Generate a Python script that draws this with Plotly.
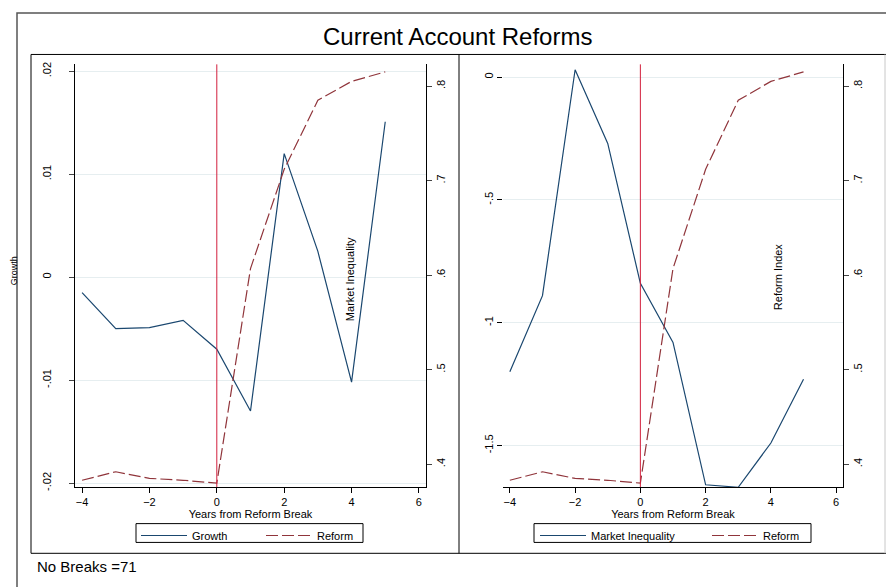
import plotly.graph_objects as go

W, H = 886, 587

years = [-4, -3, -2, -1, 0, 1, 2, 3, 4, 5]
growth = [-0.0015, -0.0050, -0.0049, -0.0042, -0.0070, -0.0130, 0.0120, 0.0025, -0.0102, 0.0151]
reform = [0.383, 0.392, 0.385, 0.383, 0.380, 0.607, 0.712, 0.785, 0.805, 0.815]
market_ineq = [-1.20, -0.89, 0.03, -0.27, -0.84, -1.08, -1.66, -1.67, -1.49, -1.23]

x_ticks = [-4, -2, 0, 2, 4, 6]
growth_ticks = [0.02, 0.01, 0, -0.01, -0.02]
growth_ticktext = [".02", ".01", "0", "-.01", "-.02"]
reform_ticks = [0.4, 0.5, 0.6, 0.7, 0.8]
reform_ticktext = [".4", ".5", ".6", ".7", ".8"]
mi_ticks = [0, -0.5, -1, -1.5]
mi_ticktext = ["0", "-.5", "-1", "-1.5"]

NAVY = "#1a476f"
MAROON = "#90353b"
VRED = "#d21f3c"
GRID = "#e6eef0"
FONT = "Liberation Sans Narrow, Arial Narrow, Liberation Sans, Arial"

def px(x):
    return x / W

def py(y):
    return 1 - y / H

fig = go.Figure()

fig.add_trace(go.Scatter(x=years, y=growth, mode="lines", name="Growth",
                         line=dict(color=NAVY, width=1.2), xaxis="x", yaxis="y", legend="legend"))
fig.add_trace(go.Scatter(x=years, y=reform, mode="lines", name="Reform",
                         line=dict(color=MAROON, width=1.2, dash="12px,4px"), xaxis="x", yaxis="y2", legend="legend2"))
fig.add_trace(go.Scatter(x=years, y=market_ineq, mode="lines", name="Market Inequality",
                         line=dict(color=NAVY, width=1.2), xaxis="x2", yaxis="y3", legend="legend3"))
fig.add_trace(go.Scatter(x=years, y=reform, mode="lines", name="Reform",
                         line=dict(color=MAROON, width=1.2, dash="12px,4px"), xaxis="x2", yaxis="y4", legend="legend4"))

xr = [-4.21, 6.21]
common_x = dict(range=xr, tickvals=x_ticks, showline=True, linecolor="black", linewidth=1,
                ticks="outside", ticklen=5, tickcolor="black", showgrid=False, zeroline=False,
                tickfont=dict(family=FONT, size=11, color="black"),
                title=dict(text="Years from Reform Break", font=dict(family=FONT, size=11, color="black"), standoff=2))
ydom = [py(490), py(63)]

legend_common = dict(orientation="h", yanchor="middle", y=py(539), xanchor="left",
                     borderwidth=0, bgcolor="rgba(0,0,0,0)", itemwidth=46,
                     font=dict(family=FONT, size=11, color="black"))

fig.update_layout(
    width=W, height=H, margin=dict(l=0, r=0, t=0, b=0),
    paper_bgcolor="white", plot_bgcolor="white",
    font=dict(family=FONT, color="black"),
    xaxis=dict(domain=[px(75), px(426)], anchor="y", **common_x),
    xaxis2=dict(domain=[px(503), px(843)], anchor="y3", **common_x),
    yaxis=dict(domain=ydom, anchor="x", range=[-0.02038, 0.02067], tickvals=growth_ticks, ticktext=growth_ticktext,
               tickangle=-90, showline=True, linecolor="black", linewidth=1, ticks="outside", ticklen=5,
               ticklabelstandoff=14,
               showgrid=True, gridcolor=GRID, gridwidth=1, zeroline=False,
               tickfont=dict(family=FONT, size=11, color="black")),
    yaxis2=dict(overlaying="y", side="right", anchor="x", range=[0.3759, 0.8230], tickvals=reform_ticks,
                ticktext=reform_ticktext, tickangle=-90, showline=True, linecolor="black", linewidth=1,
                ticks="outside", ticklen=5, showgrid=False, zeroline=False,
                tickfont=dict(family=FONT, size=11, color="black")),
    yaxis3=dict(domain=ydom, anchor="x2", range=[-1.669, 0.052], tickvals=mi_ticks, ticktext=mi_ticktext,
                tickangle=-90, showline=False, ticks="outside", ticklen=5, tickcolor="black",
                showgrid=True, gridcolor=GRID, gridwidth=1, zeroline=False,
                tickfont=dict(family=FONT, size=11, color="black")),
    yaxis4=dict(overlaying="y3", side="right", anchor="x2", range=[0.3759, 0.8230], tickvals=reform_ticks,
                ticktext=reform_ticktext, tickangle=-90, showline=True, linecolor="black", linewidth=1,
                ticks="outside", ticklen=5, showgrid=False, zeroline=False,
                tickfont=dict(family=FONT, size=11, color="black")),
    legend=dict(x=px(136), **legend_common),
    legend2=dict(x=px(261), **legend_common),
    legend3=dict(x=px(535), **legend_common),
    legend4=dict(x=px(707), **legend_common),
    showlegend=True,
)

shapes = []
# outer frame
shapes.append(dict(type="rect", xref="paper", yref="paper", x0=px(17), y0=py(600), x1=px(900), y1=py(11),
                   line=dict(color="#555555", width=1.5), layer="below"))
# panel frames
shapes.append(dict(type="rect", xref="paper", yref="paper", x0=px(31), y0=py(557), x1=px(459), y1=py(53),
                   line=dict(color="black", width=1), layer="below"))
shapes.append(dict(type="line", xref="paper", yref="paper", x0=px(459), y0=py(53), x1=px(886), y1=py(53),
                   line=dict(color="black", width=1), layer="below"))
shapes.append(dict(type="line", xref="paper", yref="paper", x0=px(459), y0=py(557), x1=px(886), y1=py(557),
                   line=dict(color="black", width=1), layer="below"))
shapes.append(dict(type="line", xref="paper", yref="paper", x0=px(885), y0=py(53), x1=px(885), y1=py(557),
                   line=dict(color="#c8c8c8", width=1), layer="below"))
# legend boxes
shapes.append(dict(type="rect", xref="paper", yref="paper", x0=px(136), y0=py(546), x1=px(363), y1=py(527),
                   line=dict(color="black", width=1), fillcolor="white", layer="below"))
shapes.append(dict(type="rect", xref="paper", yref="paper", x0=px(534), y0=py(546), x1=px(811), y1=py(527),
                   line=dict(color="black", width=1), fillcolor="white", layer="below"))
# reform break lines
shapes.append(dict(type="line", xref="x", yref="y domain", x0=0, x1=0, y0=0, y1=1, line=dict(color=VRED, width=1)))
shapes.append(dict(type="line", xref="x2", yref="y3 domain", x0=0, x1=0, y0=0, y1=1, line=dict(color=VRED, width=1)))
fig.update_layout(shapes=shapes)

ann = [
    dict(text="Current Account Reforms", x=px(457), y=py(35), xref="paper", yref="paper", showarrow=False,
         font=dict(family=FONT, size=24, color="black"), xanchor="center", yanchor="middle"),
    dict(text="Market Inequality", x=px(350), y=py(280), xref="paper", yref="paper", showarrow=False,
         textangle=-90, font=dict(family=FONT, size=11, color="black")),
    dict(text="Reform Index", x=px(786), y=py(278), xref="paper", yref="paper", showarrow=False,
         textangle=-90, font=dict(family=FONT, size=11, color="black")),
    dict(text="Growth", x=px(7), y=py(272), xref="paper", yref="paper", showarrow=False,
         textangle=-90, font=dict(family=FONT, size=9, color="black")),
    dict(text="No Breaks =71", x=px(35), y=py(570), xref="paper", yref="paper", showarrow=False,
         xanchor="left", yanchor="middle", font=dict(family=FONT, size=15, color="black")),
]
fig.update_layout(annotations=ann)

fig.write_html("out.html", config={"displayModeBar": False},
               post_script="document.body.style.margin='0px';")
